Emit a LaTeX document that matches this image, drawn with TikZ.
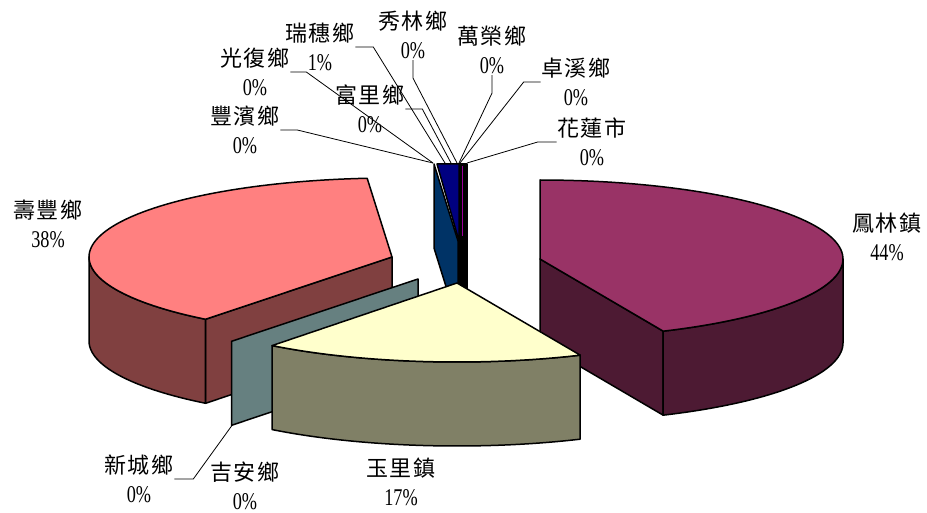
\documentclass[tikz,border=0pt]{standalone}
\usepackage{fontspec}
\setmainfont{Liberation Serif}[FakeStretch=0.76]
\newfontfamily\cjk{Noto Sans CJK TC}[LetterSpace=5]
\newcommand{\pctlbl}[1]{{\fontsize{24}{29}\selectfont #1\%}}
\definecolor{flTop}{HTML}{993366}
\definecolor{flSide}{HTML}{4D1A33}
\definecolor{sfTop}{HTML}{FF8080}
\definecolor{sfSide}{HTML}{804040}
\definecolor{ylTop}{HTML}{FFFFCC}
\definecolor{ylSide}{HTML}{808066}
\definecolor{jaSide}{HTML}{668080}
\definecolor{fbSide}{HTML}{003366}
\definecolor{rsTop}{HTML}{000080}
\definecolor{flMag}{HTML}{990099}
\begin{document}
\begin{tikzpicture}[x=1pt,y=-1pt,
  face/.style={draw=black,line width=1.5pt,line join=round},
  lbl/.style={align=center,inner sep=1pt,font=\fontsize{22}{29}\selectfont},
  leader/.style={draw=black,line width=0.8pt}]
\useasboundingbox[fill=white] (0,0) rectangle (927,513);

% ---------- small slices at the back ----------
\filldraw[face,fill=black] (459,164) rectangle (467,300);
\filldraw[face,fill=fbSide] (434,164) -- (458,241) -- (458,325) -- (434,248) -- cycle;
\filldraw[face,fill=rsTop] (437,164) -- (459,164) -- (459,241) -- cycle;
\draw[flMag,line width=1pt] (462.5,166) -- (462.5,236);

% ---------- 壽豐鄉 ----------
\filldraw[face,fill=sfSide] (392,257) -- (205.5,319.3) -- (205.5,403.3) -- (392,341) -- cycle;
\filldraw[face,fill=sfSide] plot[domain=218:270,samples=40] ({392+303*sin(\x)},{257-79*cos(\x)})
  -- plot[domain=270:218,samples=40] ({392+303*sin(\x)},{341-79*cos(\x)}) -- cycle;
\filldraw[face,fill=sfTop] (392,257) -- plot[domain=218:355.3,samples=80] ({392+303*sin(\x)},{257-79*cos(\x)}) -- cycle;

% ---------- 鳳林鎮 ----------
\filldraw[face,fill=flSide] (540,259) -- (663.2,331.2) -- (663.2,415.2) -- (540,343) -- cycle;
\filldraw[face,fill=flSide] plot[domain=90:156,samples=40] ({540+303*sin(\x)},{259-79*cos(\x)})
  -- plot[domain=156:90,samples=40] ({540+303*sin(\x)},{343-79*cos(\x)}) -- cycle;
\filldraw[face,fill=flTop] (540,259) -- plot[domain=0:156,samples=80] ({540+303*sin(\x)},{259-79*cos(\x)}) -- cycle;

% ---------- 吉安鄉 / 新城鄉 plane ----------
\filldraw[face,fill=jaSide] (418,279) -- (231.5,341.3) -- (231.5,425.3) -- (418,363) -- cycle;

% ---------- 玉里鎮 ----------
\filldraw[face,fill=ylSide] plot[domain=156:217.6,samples=50] ({457+303*sin(\x)},{283-79*cos(\x)})
  -- plot[domain=217.6:156,samples=50] ({457+303*sin(\x)},{367-79*cos(\x)}) -- cycle;
\filldraw[face,fill=ylTop] (457,283) -- plot[domain=156:217.6,samples=50] ({457+303*sin(\x)},{283-79*cos(\x)}) -- cycle;

% ---------- labels ----------
\node[lbl] (lFL) at (887,237) {{\cjk 鳳林鎮}\\\pctlbl{44}};
\node[lbl] (lSF) at (48,224) {{\cjk 壽豐鄉}\\\pctlbl{38}};
\node[lbl] (lYL) at (401,482) {{\cjk 玉里鎮}\\\pctlbl{17}};
\node[lbl] (lJA) at (245,486) {{\cjk 吉安鄉}\\\pctlbl{0}};
\node[lbl] (lXC) at (139,479) {{\cjk 新城鄉}\\\pctlbl{0}};
\node[lbl] (lFB) at (245,130) {{\cjk 豐濱鄉}\\\pctlbl{0}};
\node[lbl] (lGF) at (255,72) {{\cjk 光復鄉}\\\pctlbl{0}};
\node[lbl] (lRS) at (320,47) {{\cjk 瑞穗鄉}\\\pctlbl{1}};
\node[lbl] (lFU) at (370,109) {{\cjk 富里鄉}\\\pctlbl{0}};
\node[lbl] (lXL) at (413,35) {{\cjk 秀林鄉}\\\pctlbl{0}};
\node[lbl] (lWR) at (492,50) {{\cjk 萬榮鄉}\\\pctlbl{0}};
\node[lbl] (lZX) at (576,82) {{\cjk 卓溪鄉}\\\pctlbl{0}};
\node[lbl] (lHL) at (592,142) {{\cjk 花蓮市}\\\pctlbl{0}};

% ---------- leader ends ----------
\coordinate (eFB) at (433,163);
\coordinate (eGF) at (433,163);
\coordinate (eRS) at (445,163);
\coordinate (eFU) at (451,163);
\coordinate (eXL) at (457,163);
\coordinate (eWR) at (459,163);
\coordinate (eZX) at (460,163);
\coordinate (eHL) at (467,163);
\coordinate (eXC) at (233,424);

\draw[leader] (lFB.east) -- ++(17,0) -- (eFB);
\draw[leader] (lGF.east) -- ++(16,0) -- (eGF);
\draw[leader] (lRS.east) -- ++(18,0) -- (eRS);
\draw[leader] (lFU.east) -- ++(17,0) -- (eFU);
\draw[leader] (lXL.south) -- ++(0,18) -- (eXL);
\draw[leader] (lWR.south) -- ++(0,18) -- (eWR);
\draw[leader] (lZX.west) -- ++(-17,0) -- (eZX);
\draw[leader] (lHL.west) -- ++(-19,0) -- (eHL);
\draw[leader] (lXC.east) -- ++(19,0) -- (eXC);
\end{tikzpicture}
\end{document}
